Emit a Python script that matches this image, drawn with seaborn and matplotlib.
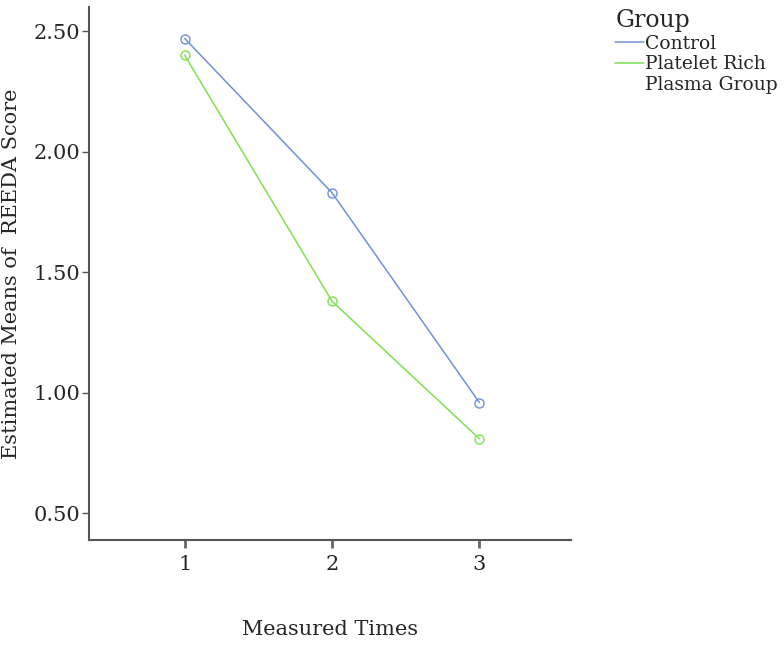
import matplotlib
matplotlib.use("Agg")
import matplotlib.pyplot as plt
from matplotlib.lines import Line2D
import seaborn as sns
import pandas as pd

times = [1, 2, 3]
control = [2.47, 1.83, 0.96]
prp = [2.40, 1.38, 0.81]
groups = ["Control", "Platelet Rich Plasma Group"]
legend_labels = ["Control", "Platelet Rich", "Plasma Group"]
colors = ["#7190dc", "#80e050"]
y_ticks = [0.50, 1.00, 1.50, 2.00, 2.50]

df = pd.DataFrame({
    "time": times * 2,
    "score": control + prp,
    "group": [groups[0]] * 3 + [groups[1]] * 3,
})

sns.set_theme(style="white")
plt.rcParams["font.family"] = ["DejaVu Serif", "Liberation Serif"]

fig = plt.figure(figsize=(7.84, 6.51), dpi=100)
ax = fig.add_axes([0.1135, 0.1705, 0.6145, 0.8185])

palette = dict(zip(groups, colors))
sns.lineplot(data=df, x="time", y="score", hue="group", palette=palette,
             marker="o", markersize=6.5, markerfacecolor="none",
             markeredgewidth=1.0, linewidth=1.1, legend=False, ax=ax)
# open markers in group colour
for line, c in zip(ax.get_lines(), colors):
    line.set_markeredgecolor(c)

ax.set_xlim(0.35, 3.62)
ax.set_ylim(0.39, 2.6)
ax.set_xticks(times)
ax.set_xticklabels([str(t) for t in times])
ax.set_yticks(y_ticks)
ax.set_yticklabels([f"{v:.2f}" for v in y_ticks])

for side in ["top", "right"]:
    ax.spines[side].set_visible(False)
for side in ["left", "bottom"]:
    ax.spines[side].set_color("#555555")
    ax.spines[side].set_linewidth(1.5)

ax.tick_params(axis="y", left=True, length=5, width=1, color="#555555",
               labelsize=15, pad=1)
ax.tick_params(axis="x", bottom=True, length=6, width=2, color="#666666",
               labelsize=15, pad=5)

ax.set_xlabel("Measured Times", fontsize=15, labelpad=33)
ax.set_ylabel("Estimated Means of  REEDA Score", fontsize=15, labelpad=9)

# second line of the long group name gets an empty handle
handles = [Line2D([0], [0], color=c, lw=1.1) for c in colors]
handles.append(Line2D([0], [0], color="none"))
leg = fig.legend(handles, legend_labels, title="Group", loc="upper left",
                 bbox_to_anchor=(0.785, 0.986), frameon=False, fontsize=13.5,
                 title_fontsize=17, handlelength=1.5, handletextpad=0.1,
                 labelspacing=0.13, borderaxespad=0, borderpad=0)
leg._legend_box.align = "left"
leg._legend_box.sep = 2

fig.savefig("out.png", dpi=100)
